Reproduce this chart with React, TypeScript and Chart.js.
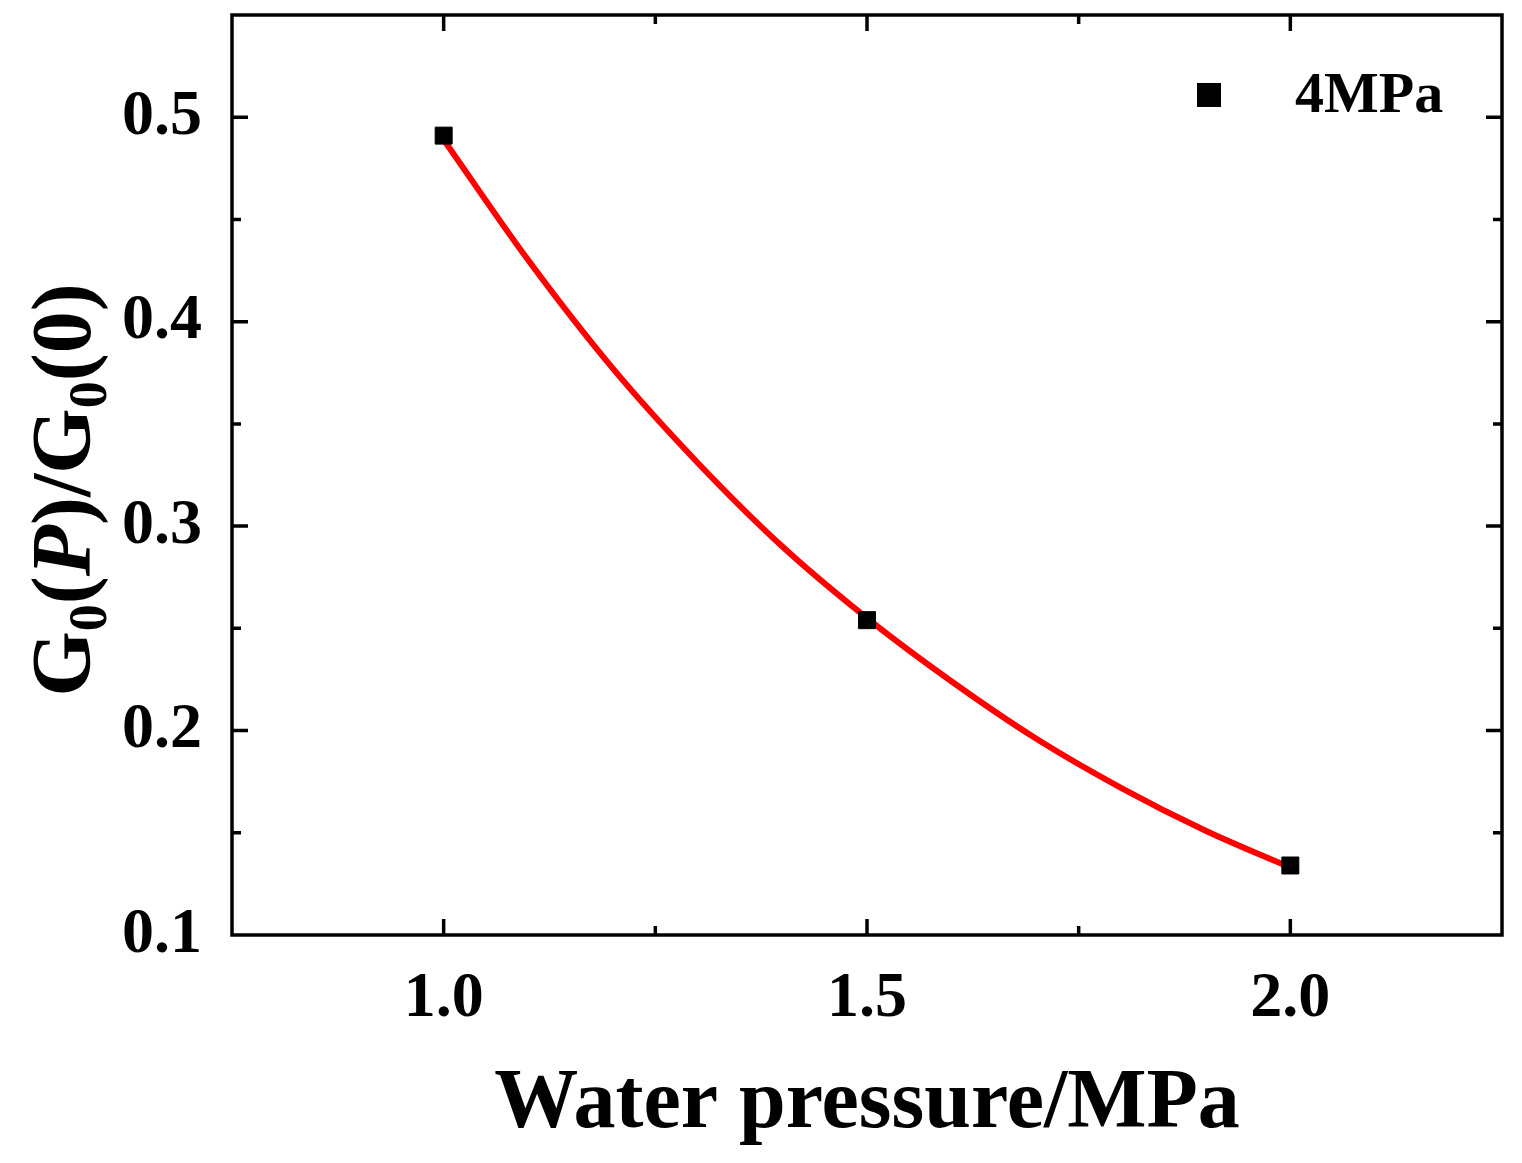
import React, { useEffect, useRef } from "react";
import { Chart, registerables } from "chart.js";
Chart.register(...registerables);

const pointX = [1.0, 1.5, 2.0];
const pointY = [0.491, 0.254, 0.134];
const fitX = [1.0, 1.1, 1.2, 1.3, 1.4, 1.5, 1.6, 1.7, 1.8, 1.9, 2.0];
const fitY = [0.489, 0.43, 0.377, 0.331, 0.29, 0.255, 0.224, 0.196, 0.172, 0.151, 0.133];
const legendLabel = "4MPa";
const xTitle = "Water pressure/MPa";

const FONT = "'Liberation Serif', 'DejaVu Serif', serif";

const deco = {
  id: "deco",
  afterDraw(chart: any) {
    const ctx = chart.ctx;
    const a = chart.chartArea;
    const xs = chart.scales.x, ys = chart.scales.y;
    ctx.save();
    ctx.strokeStyle = "#000";
    ctx.lineWidth = 3.5;
    ctx.strokeRect(a.left, a.top, a.right - a.left, a.bottom - a.top);
    xs.ticks.forEach((t: any) => {
      const v = t.value;
      const major = Math.abs(v * 2 - Math.round(v * 2)) < 1e-6;
      const len = major ? 16 : 9;
      const px = xs.getPixelForValue(v);
      if (px <= a.left + 1 || px >= a.right - 1) return;
      ctx.beginPath();
      ctx.moveTo(px, a.bottom); ctx.lineTo(px, a.bottom - len);
      ctx.moveTo(px, a.top); ctx.lineTo(px, a.top + len);
      ctx.stroke();
    });
    ys.ticks.forEach((t: any) => {
      const v = t.value;
      const major = Math.abs(v * 10 - Math.round(v * 10)) < 1e-6;
      const len = major ? 16 : 9;
      const py = ys.getPixelForValue(v);
      if (py <= a.top + 1 || py >= a.bottom - 1) return;
      ctx.beginPath();
      ctx.moveTo(a.left, py); ctx.lineTo(a.left + len, py);
      ctx.moveTo(a.right, py); ctx.lineTo(a.right - len, py);
      ctx.stroke();
    });
    // legend
    ctx.fillStyle = "#000";
    ctx.fillRect(1197, 83, 24, 24);
    ctx.font = `bold 58px ${FONT}`;
    ctx.textBaseline = "middle";
    ctx.textAlign = "left";
    ctx.fillText(legendLabel, 1295, 97);
    // x title
    ctx.font = `bold 84px ${FONT}`;
    ctx.textAlign = "center";
    ctx.textBaseline = "alphabetic";
    ctx.fillText(xTitle, 867, 1127);
    // y title
    ctx.translate(62, 490);
    ctx.rotate(-Math.PI / 2);
    const parts: [string, string, number][] = [
      ["G", `bold 84px ${FONT}`, 0],
      ["0", `bold 54px ${FONT}`, 16],
      ["(", `bold 84px ${FONT}`, 0],
      ["P", `bold italic 84px ${FONT}`, 0],
      [")/G", `bold 84px ${FONT}`, 0],
      ["0", `bold 54px ${FONT}`, 16],
      ["(0)", `bold 84px ${FONT}`, 0],
    ];
    let total = 0;
    parts.forEach(([s, f]) => { ctx.font = f; total += ctx.measureText(s).width; });
    let cx = -total / 2;
    ctx.textAlign = "left";
    parts.forEach(([s, f, dy]) => {
      ctx.font = f;
      ctx.fillText(s, cx, 28 + dy);
      cx += ctx.measureText(s).width;
    });
    ctx.restore();
  },
};

export default function App() {
  const ref = useRef<HTMLCanvasElement>(null);
  useEffect(() => {
    document.body.style.margin = "0";
    const chart = new Chart(ref.current!, {
      type: "scatter",
      data: {
        datasets: [
          {
            label: "fit",
            data: fitX.map((x, i) => ({ x, y: fitY[i] })),
            showLine: true,
            borderColor: "#ff0000",
            borderWidth: 6,
            pointRadius: 0,
            cubicInterpolationMode: "monotone",
            order: 2,
          } as any,
          {
            label: legendLabel,
            data: pointX.map((x, i) => ({ x, y: pointY[i] })),
            pointStyle: "rect",
            pointRadius: 12,
            backgroundColor: "#000",
            borderColor: "#000",
            order: 1,
          },
        ],
      },
      options: {
        animation: false,
        responsive: false,
        layout: { padding: { top: 15, right: 20, left: 0, bottom: 0 } },
        plugins: { legend: { display: false }, tooltip: { enabled: false } },
        scales: {
          x: {
            type: "linear",
            min: 0.75,
            max: 2.25,
            afterFit: (s: any) => { s.height = 228; s.paddingLeft = 0; s.paddingRight = 0; },
            ticks: {
              stepSize: 0.25,
              padding: 18,
              color: "#000",
              font: { family: FONT, size: 64, weight: "bold" },
              callback: (v: any) => (Math.abs(v * 2 - Math.round(v * 2)) < 1e-6 && v > 0.8 && v < 2.2 ? Number(v).toFixed(1) : ""),
            },
            grid: { display: false },
            border: { display: false },
          },
          y: {
            type: "linear",
            min: 0.1,
            max: 0.55,
            afterFit: (s: any) => { s.width = 232; s.paddingTop = 0; s.paddingBottom = 0; },
            ticks: {
              stepSize: 0.05,
              padding: 22,
              color: "#000",
              font: { family: FONT, size: 64, weight: "bold" },
              callback: (v: any) => (Math.abs(v * 10 - Math.round(v * 10)) < 1e-6 ? Number(v).toFixed(1) : ""),
            },
            grid: { display: false },
            border: { display: false },
          },
        },
      },
      plugins: [deco],
    });
    return () => chart.destroy();
  }, []);
  return <canvas ref={ref} width={1522} height={1163} style={{ display: "block" }} />;
}
